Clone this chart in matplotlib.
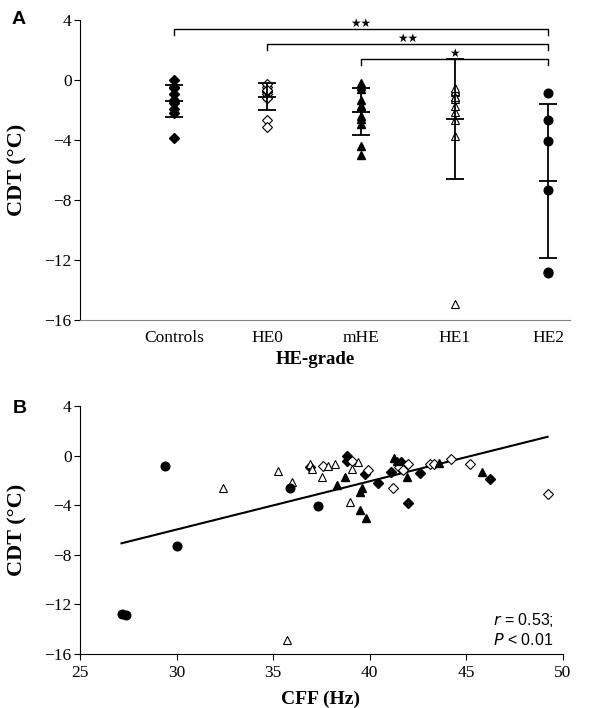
import numpy as np
import matplotlib
matplotlib.use("Agg")
import matplotlib.pyplot as plt

# ====================== data ======================
groups = ["Controls", "HE0", "mHE", "HE1", "HE2"]

# CFF (Hz) / CDT (°C) for each group
cff_controls = [36.9, 38.8, 38.8, 39.75, 40.4, 41.6, 41.1, 42.6, 42.0, 46.2]
cdt_controls = [-0.9, 0.0, -0.46, -1.5, -2.2, -0.5, -1.3, -1.4, -3.85, -1.9]

cff_he0 = [37.6, 39.1, 39.9, 41.5, 42.0, 41.7, 41.2, 43.1, 43.3, 44.2, 45.2, 49.2]
cdt_he0 = [-0.8, -0.46, -1.2, -0.9, -0.7, -1.2, -2.65, -0.7, -0.64, -0.27, -0.64, -3.1]

cff_mhe = [38.7, 38.3, 39.6, 39.5, 39.5, 39.8, 41.25, 41.4, 41.9, 43.6, 45.8]
cdt_mhe = [-1.7, -2.4, -2.6, -2.9, -4.4, -5.0, -0.19, -0.4, -1.7, -0.6, -1.3]

cff_he1 = [32.4, 35.25, 35.98, 36.9, 37.0, 37.85, 38.2, 37.5, 39.4, 39.1, 39.0, 35.7]
cdt_he1 = [-2.65, -1.26, -2.14, -0.64, -1.1, -0.8, -0.7, -1.7, -0.54, -1.1, -3.75, -14.9]

cff_he2 = [27.15, 27.4, 29.4, 30.0, 35.86, 37.3]
cdt_he2 = [-12.77, -12.85, -0.86, -7.31, -2.65, -4.04]

# significance brackets: (from group, to group, label)
sig_pairs = [(1, 5, "★★"), (2, 5, "★★"), (3, 5, "★")]
sig_levels = [3.38, 2.4, 1.4]

corr_text_r = "0.53"
corr_text_p = "0.01"

# ====================== styles ======================
styles = [
    dict(marker="D", ms=5.2, mfc="black", mec="black"),
    dict(marker="D", ms=5.2, mfc="white", mec="black", mew=0.8),
    dict(marker="^", ms=6.0, mfc="black", mec="black"),
    dict(marker="^", ms=5.5, mfc="white", mec="black", mew=0.8),
    dict(marker="o", ms=6.2, mfc="black", mec="black"),
]

serif = "Liberation Serif"
sans = "Liberation Sans"
plt.rcParams["font.family"] = serif

cff_all = [cff_controls, cff_he0, cff_mhe, cff_he1, cff_he2]
cdt_all = [cdt_controls, cdt_he0, cdt_mhe, cdt_he1, cdt_he2]

fig = plt.figure(figsize=(5.98, 7.08), dpi=100)

# ---------------- panel A ----------------
axA = fig.add_axes([80 / 598, 1 - 320 / 708, 490 / 598, 300 / 708])
for i, (vals, st) in enumerate(zip(cdt_all, styles)):
    x = i + 1
    v = np.array(vals)
    axA.plot(np.full(len(v), x), v, ls="none", zorder=3, **st)
    m, s = v.mean(), v.std(ddof=1)
    axA.errorbar([x], [m], yerr=[s], fmt="none", ecolor="black",
                 elinewidth=1.3, capsize=6.5, capthick=1.3, zorder=4)
    axA.plot([x], [m], marker="_", ms=13, mew=1.3, color="black", zorder=4)

for (a, b, lab), lev in zip(sig_pairs, sig_levels):
    axA.plot([a, a, b, b], [lev - 0.4, lev, lev, lev - 0.4], color="black", lw=1.0)
    axA.text((a + b) / 2, lev + 0.36, lab, ha="center", va="center",
             fontsize=8.5, family="DejaVu Sans")

axA.set_xlim(0, 5.23)
axA.set_ylim(-16, 4)
axA.set_yticks([4, 0, -4, -8, -12, -16])
axA.set_yticklabels(["4", "0", "\u22124", "\u22128", "\u221212", "\u221216"])
axA.set_xticks(range(1, 6))
axA.set_xticklabels(groups)
axA.tick_params(axis="x", length=0, pad=7, labelsize=12.5)
axA.tick_params(axis="y", length=4, width=0.8, pad=2, labelsize=12.5, direction="out")
for sp in ["top", "right"]:
    axA.spines[sp].set_visible(False)
axA.spines["bottom"].set_color("0.5")
axA.spines["left"].set_linewidth(0.8)
axA.text(0.48, -0.133, "HE-grade", transform=axA.transAxes, ha="center",
         va="center", fontsize=13.5, fontweight="bold")
axA.text(-0.1286, 0.5, "CDT (°C)", transform=axA.transAxes, ha="center",
         va="center", rotation=90, fontsize=16, fontweight="bold")
fig.text(18.5 / 598, 1 - 19 / 708, "A", family=sans, fontweight="bold",
         fontsize=14, ha="center", va="center")

# ---------------- panel B ----------------
axB = fig.add_axes([80 / 598, 1 - 654 / 708, 483 / 598, 248 / 708])
for xs, ys, st in zip(cff_all, cdt_all, styles):
    axB.plot(xs, ys, ls="none", zorder=3, **st)

x_all = np.concatenate([np.array(c) for c in cff_all])
y_all = np.concatenate([np.array(c) for c in cdt_all])
slope, intercept = np.polyfit(x_all, y_all, 1)
xf = np.array([x_all.min(), x_all.max()])
axB.plot(xf, slope * xf + intercept, color="black", lw=1.5, zorder=2)

axB.set_xlim(25, 50)
axB.set_ylim(-16, 4)
axB.set_xticks([25, 30, 35, 40, 45, 50])
axB.set_yticks([4, 0, -4, -8, -12, -16])
axB.set_yticklabels(["4", "0", "\u22124", "\u22128", "\u221212", "\u221216"])
axB.tick_params(axis="both", length=4, width=0.8, pad=2, labelsize=12.5, direction="out")
axB.tick_params(axis="x", pad=4)
for sp in ["top", "right"]:
    axB.spines[sp].set_visible(False)
for sp in ["bottom", "left"]:
    axB.spines[sp].set_linewidth(0.8)
axB.text(0.497, -0.181, "CFF (Hz)", transform=axB.transAxes, ha="center",
         va="center", fontsize=14, fontweight="bold")
axB.text(-0.130, 0.5, "CDT (°C)", transform=axB.transAxes, ha="center",
         va="center", rotation=90, fontsize=16, fontweight="bold")
axB.text(493 / 483 - 80 / 483, (654 - 620) / 248, f"$\\it{{r}}$ = {corr_text_r};",
         transform=axB.transAxes, family=sans, fontsize=11.5, ha="left", va="center")
axB.text(493 / 483 - 80 / 483, (654 - 640) / 248, f"$\\it{{P}}$ < {corr_text_p}",
         transform=axB.transAxes, family=sans, fontsize=11.5, ha="left", va="center")
fig.text(19.5 / 598, 1 - 408.5 / 708, "B", family=sans, fontweight="bold",
         fontsize=14, ha="center", va="center")

fig.savefig("out.png", dpi=100)
